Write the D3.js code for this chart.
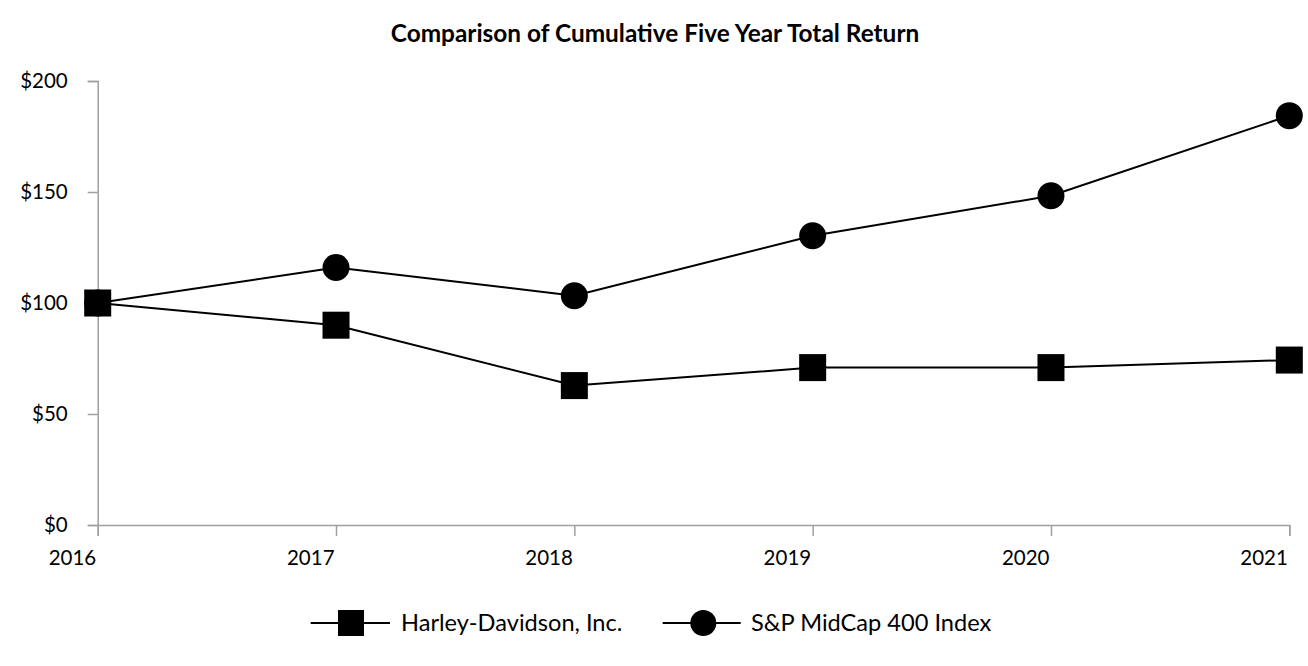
<!DOCTYPE html>
<html>
<head>
<meta charset="utf-8">
<script src="https://cdn.jsdelivr.net/npm/d3@7"></script>
<style>
body { margin: 0; background: white; }
text { font-family: Lato, "Open Sans", sans-serif; fill: black; }
</style>
</head>
<body>
<script>
const largeur = 1308;
const hauteur = 666;

// donnees
const annees = [2016, 2017, 2018, 2019, 2020, 2021];
const harley = [100, 90, 62.8, 70.9, 70.9, 74.3];
const midcap = [100, 116, 103.3, 130.3, 148.3, 184.4];
const graduations = [0, 50, 100, 150, 200];
const series = [
    { nom: "Harley-Davidson, Inc.", valeurs: harley, forme: "carre" },
    { nom: "S&P MidCap 400 Index", valeurs: midcap, forme: "rond" }
];

const gauche = 97.7;
const droite = 1289.3;
const haut = 81;
const bas = 525;
const grisAxe = "#a0a0a0";

const svg = d3
.select("body")
.append("svg")
.attr("width", largeur)
.attr("height", hauteur);

const x = d3.scaleLinear()
.domain([d3.min(annees), d3.max(annees)])
.range([gauche, droite]);

const y = d3.scaleLinear()
.domain([0, 200])
.range([bas, haut]);

// titre
svg.append("text")
.attr("x", 655)
.attr("y", 42)
.attr("text-anchor", "middle")
.style("font-weight", "bold")
.style("font-size", "24.4px")
.text("Comparison of Cumulative Five Year Total Return");

// axe vertical
const axeY = svg.append("g")
.attr("transform", "translate(" + gauche + ",0)")
.call(d3.axisLeft(y)
    .tickValues(graduations)
    .tickSize(10)
    .tickPadding(20)
    .tickFormat(function(d) { return "$" + d; }));

axeY.select(".domain").attr("stroke", grisAxe).attr("stroke-width", 1.5);
axeY.selectAll(".tick line").attr("stroke", grisAxe).attr("stroke-width", 1.5);
axeY.selectAll(".tick text")
.style("font-size", "20.5px")
.style("font-family", "Lato, sans-serif")
.attr("fill", "black");

// axe horizontal
const axeX = svg.append("g")
.attr("transform", "translate(0," + bas + ")")
.call(d3.axisBottom(x)
    .tickValues(annees)
    .tickSize(11)
    .tickPadding(14)
    .tickFormat(d3.format("d")));

axeX.select(".domain").attr("stroke", grisAxe).attr("stroke-width", 1.5);
axeX.selectAll(".tick line").attr("stroke", grisAxe).attr("stroke-width", 1.5);
axeX.selectAll(".tick text")
.attr("text-anchor", "end")
.attr("x", -2)
.style("font-size", "20.5px")
.style("font-family", "Lato, sans-serif")
.attr("fill", "black");

// lignes
const ligne = d3.line()
.x(function(d, i) { return x(annees[i]); })
.y(function(d) { return y(d); });

const taille = 27;

function dessinerMarque(g, forme, cx, cy, t)
{
    if(forme == "carre")
    {
        g.append("rect")
        .attr("x", cx - t / 2)
        .attr("y", cy - t / 2)
        .attr("width", t)
        .attr("height", t)
        .attr("fill", "black");
    }
    else
    {
        g.append("circle")
        .attr("cx", cx)
        .attr("cy", cy)
        .attr("r", t / 2)
        .attr("fill", "black");
    }
}

series.forEach(function(s)
{
    svg.append("path")
    .datum(s.valeurs)
    .attr("d", ligne)
    .attr("fill", "none")
    .attr("stroke", "black")
    .attr("stroke-width", 2);
});

// le carre de 2016 recouvre le rond, on dessine les ronds d'abord
[series[1], series[0]].forEach(function(s)
{
    const g = svg.append("g");
    s.valeurs.forEach(function(v, i)
    {
        dessinerMarque(g, s.forme, x(annees[i]), y(v), taille);
    });
});

// legende
const legendes = [
    { debut: 310.7, fin: 390, centre: 351, texte: 401 },
    { debut: 662.7, fin: 740.7, centre: 703.3, texte: 751 }
];
const yLegende = 623;

series.forEach(function(s, i)
{
    const l = legendes[i];
    const g = svg.append("g");

    g.append("line")
    .attr("x1", l.debut)
    .attr("x2", l.fin)
    .attr("y1", yLegende)
    .attr("y2", yLegende)
    .attr("stroke", "black")
    .attr("stroke-width", 2);

    dessinerMarque(g, s.forme, l.centre, yLegende, 26);

    g.append("text")
    .attr("x", l.texte)
    .attr("y", yLegende + 8)
    .style("font-size", "23.6px")
    .text(s.nom);
});
</script>
</body>
</html>
